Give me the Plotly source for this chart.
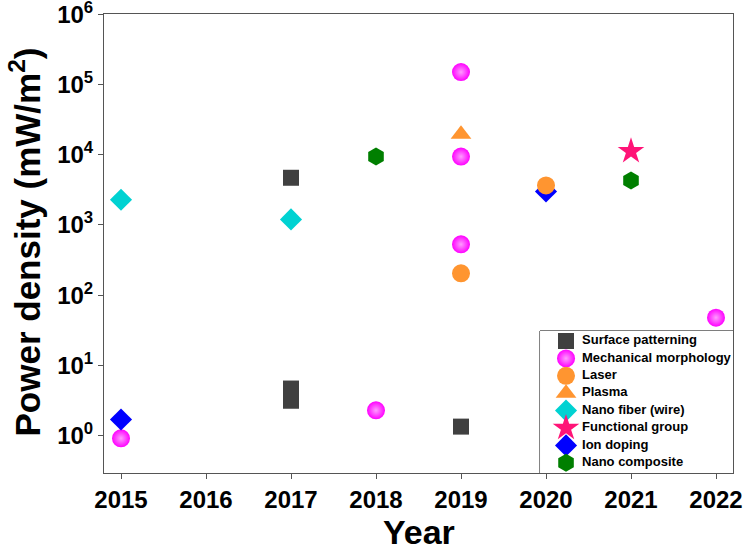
import plotly.graph_objects as go

# ---- data ----
surface_x = [2017, 2017, 2017, 2019]
surface_y = [4700, 4.7, 3.15, 1.35]

mech_x = [2015, 2018, 2019, 2019, 2019, 2022]
mech_y = [0.92, 2.3, 150000, 9400, 530, 48]

laser_x = [2019, 2020]
laser_y = [205, 3650]

plasma_x = [2019]
plasma_y = [19500]

fiber_x = [2015, 2017]
fiber_y = [2290, 1200]

func_x = [2021]
func_y = [11200]

ion_x = [2015, 2020]
ion_y = [1.7, 3000]

comp_x = [2018, 2021]
comp_y = [9400, 4300]

x_ticks = [2015, 2016, 2017, 2018, 2019, 2020, 2021, 2022]
y_exps = [0, 1, 2, 3, 4, 5, 6]

legend_order = ["Surface patterning", "Mechanical morphology", "Laser", "Plasma",
                "Nano fiber (wire)", "Functional group", "Ion doping", "Nano composite"]

FONT = "Arial, Liberation Sans, sans-serif"

# drawing order (Ion doping below Laser, as in the reference)
series = [
    ("Surface patterning", surface_x, surface_y, "square", "#404040", 16),
    ("Mechanical morphology", mech_x, mech_y, "circle", "#ff00ff", 18),
    ("Ion doping", ion_x, ion_y, "diamond", "#0000ff", 17),
    ("Laser", laser_x, laser_y, "circle", "#ff9530", 18),
    ("Plasma", plasma_x, plasma_y, "triangle-up", "#ff9530", 18),
    ("Nano fiber (wire)", fiber_x, fiber_y, "diamond", "#00d2d2", 17),
    ("Functional group", func_x, func_y, "star", "#ff1477", 20),
    ("Nano composite", comp_x, comp_y, "hexagon", "#007f00", 18),
]


def make_marker(name, sym, col, sz):
    m = dict(symbol=sym, color=col, size=sz, line=dict(width=0))
    if name == "Mechanical morphology":
        m["gradient"] = dict(type="radial", color="#ff9cff")
    return m


fig = go.Figure()
for name, xs, ys, sym, col, sz in series:
    fig.add_trace(go.Scatter(
        x=xs, y=ys, mode="markers", name=name,
        marker=make_marker(name, sym, col, sz), showlegend=False,
    ))

# ---- legend drawn on an inset axis ----
style = {s[0]: s for s in series}
for k, name in enumerate(legend_order):
    _, _, _, sym, col, sz = style[name]
    fig.add_trace(go.Scatter(
        x=[26], y=[k], mode="markers", xaxis="x2", yaxis="y2",
        marker=make_marker(name, sym, col, sz), showlegend=False, hoverinfo="skip",
    ))
fig.add_trace(go.Scatter(
    x=[42] * len(legend_order), y=list(range(len(legend_order))),
    mode="text", text=[f"<b>{n}</b>" for n in legend_order],
    textposition="middle right", xaxis="x2", yaxis="y2",
    textfont=dict(family=FONT, size=13, color="black"),
    showlegend=False, hoverinfo="skip",
))

LEG_X0 = 0.6932
LEG_Y1 = 0.3094

fig.update_layout(
    width=744, height=554,
    margin=dict(l=104, r=11, t=14, b=81),
    paper_bgcolor="white", plot_bgcolor="white",
    font=dict(family=FONT, color="black"),
    showlegend=False,
    xaxis2=dict(domain=[LEG_X0, 1.0], range=[0, 193], anchor="y2",
                visible=False, fixedrange=True),
    yaxis2=dict(domain=[0.0, LEG_Y1], range=[7.586, -0.575], anchor="x2",
                visible=False, fixedrange=True),
    shapes=[dict(type="rect", xref="paper", yref="paper",
                 x0=LEG_X0, x1=1.0, y0=0.0, y1=LEG_Y1,
                 line=dict(color="black", width=1), fillcolor="white", layer="below")],
    annotations=[
        dict(text="<b>Year</b>", xref="paper", yref="paper",
             x=0.5, y=-0.1285, xanchor="center", yanchor="middle",
             showarrow=False, font=dict(size=34, family=FONT, color="black")),
        dict(text="<b>Power density (mW/m<sup>2</sup>)</b>", xref="paper", yref="paper",
             x=-0.125, y=0.503, xanchor="center", yanchor="middle", textangle=-90,
             showarrow=False, font=dict(size=35, family=FONT, color="black")),
    ],
)

fig.update_layout(
    xaxis=dict(
        range=[2014.8, 2022.2],
        tickvals=x_ticks,
        ticktext=[f"<b>{v}</b>" for v in x_ticks],
        tickfont=dict(size=24, family=FONT, color="black"),
        ticks="outside", ticklen=5, tickcolor="#555", tickwidth=1,
        showline=True, linecolor="#555", linewidth=1, mirror=True,
        showgrid=False, zeroline=False, automargin=False,
        ticklabeloverflow="allow",
    ),
    yaxis=dict(
        type="log",
        range=[-0.53, 6.003],
        tickvals=[10 ** e for e in y_exps],
        ticktext=[f"<b>10<sup>{e}</sup></b>" for e in y_exps],
        tickfont=dict(size=24, family=FONT, color="black"),
        ticks="outside", ticklen=5, tickcolor="#555", tickwidth=1,
        showline=True, linecolor="#555", linewidth=1, mirror=True,
        showgrid=False, zeroline=False, automargin=False,
        ticklabeloverflow="allow",
    ),
)

fig.write_html("out.html", config={"displayModeBar": False},
               post_script="document.body.style.margin='0';")
